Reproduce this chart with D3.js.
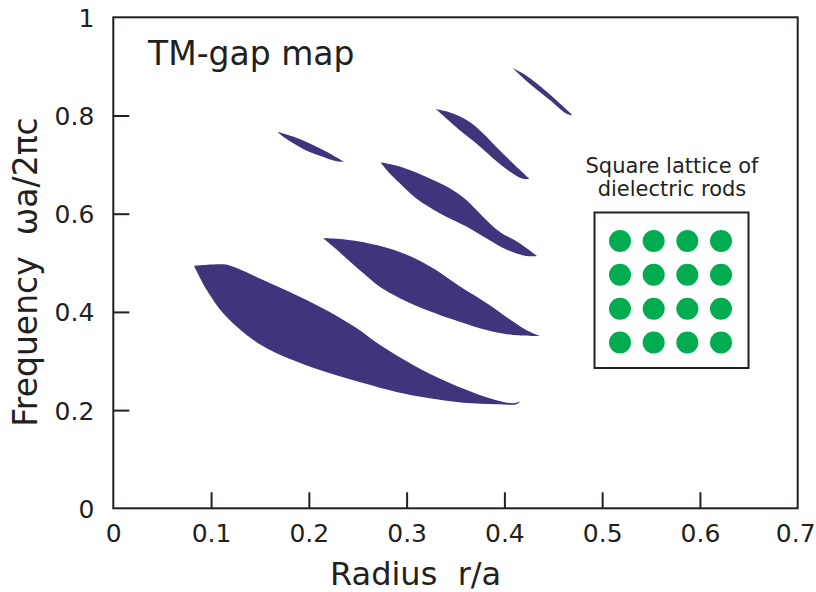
<!DOCTYPE html>
<html>
<head>
<meta charset="utf-8">
<script src="https://cdn.jsdelivr.net/npm/d3@7"></script>
<style>
  html, body { margin: 0; padding: 0; background: #fff; }
  text { font-family: "DejaVu Sans", sans-serif; fill: #231f20; }
</style>
</head>
<body>
<svg id="chart" width="816" height="592"></svg>
<script>
// ---- data ----
const xTicks = [0, 0.1, 0.2, 0.3, 0.4, 0.5, 0.6, 0.7];
const yTicks = [0, 0.2, 0.4, 0.6, 0.8, 1];
const xTickLabels = ["0", "0.1", "0.2", "0.3", "0.4", "0.5", "0.6", "0.7"];
const yTickLabels = ["0", "0.2", "0.4", "0.6", "0.8", "1"];

// gap regions: [r/a, ωa/2πc]; upper and lower edges, each from left tip to right tip
const gap1Upper = [[0.0825,0.494],[0.1124,0.497],[0.1226,0.492],[0.1533,0.465],[0.1874,0.434],[0.2214,0.400],
  [0.2487,0.367],[0.2725,0.333],[0.3066,0.292],[0.3407,0.258],[0.3747,0.231],[0.4087,0.214],[0.4163,0.218]];
const gap1Lower = [[0.0825,0.494],[0.0954,0.445],[0.1124,0.397],[0.1363,0.353],[0.1568,0.326],[0.1874,0.299],
  [0.2214,0.275],[0.2555,0.255],[0.2896,0.237],[0.3236,0.224],[0.3577,0.215],[0.3918,0.212],[0.4122,0.212],[0.4163,0.218]];

const gap2Upper = [[0.2146,0.550],[0.2350,0.548],[0.2692,0.536],[0.3032,0.514],[0.3305,0.485],[0.3543,0.452],
  [0.3816,0.418],[0.4054,0.385],[0.4224,0.363],[0.4360,0.351]];
const gap2Lower = [[0.2146,0.550],[0.2248,0.533],[0.2385,0.509],[0.2555,0.479],[0.2725,0.451],[0.2930,0.428],
  [0.3203,0.404],[0.3543,0.380],[0.3816,0.363],[0.4087,0.353],[0.4360,0.351]];

const gap3Upper = [[0.2732,0.705],[0.2930,0.696],[0.3203,0.675],[0.3441,0.652],[0.3611,0.628],[0.3781,0.594],
  [0.3952,0.563],[0.4156,0.540],[0.4333,0.514]];
const gap3Lower = [[0.2732,0.705],[0.2828,0.682],[0.2930,0.662],[0.3100,0.631],[0.3338,0.601],[0.3611,0.574],
  [0.3849,0.546],[0.4020,0.527],[0.4224,0.514],[0.4333,0.514]];

const gap4Upper = [[0.1676,0.767],[0.1839,0.757],[0.2010,0.743],[0.2181,0.726],[0.2357,0.706]];
const gap4Lower = [[0.1676,0.767],[0.1772,0.752],[0.1942,0.732],[0.2112,0.718],[0.2283,0.707],[0.2357,0.706]];

const gap5Upper = [[0.3298,0.813],[0.3474,0.804],[0.3645,0.787],[0.3781,0.764],[0.3918,0.736],[0.4087,0.703],[0.4258,0.671]];
const gap5Lower = [[0.3298,0.813],[0.3407,0.794],[0.3543,0.770],[0.3713,0.743],[0.3883,0.713],[0.4054,0.686],[0.4190,0.671],[0.4258,0.671]];

const gap6Upper = [[0.4081,0.897],[0.4224,0.881],[0.4394,0.855],[0.4565,0.825],[0.4701,0.800]];
const gap6Lower = [[0.4081,0.897],[0.4156,0.883],[0.4292,0.859],[0.4462,0.832],[0.4633,0.804],[0.4701,0.800]];

const gaps = [
  {upper: gap1Upper, lower: gap1Lower},
  {upper: gap2Upper, lower: gap2Lower},
  {upper: gap3Upper, lower: gap3Lower},
  {upper: gap4Upper, lower: gap4Lower},
  {upper: gap5Upper, lower: gap5Lower},
  {upper: gap6Upper, lower: gap6Lower}
];

const titleText = "TM-gap map";
const xTitle = "Radius\u00a0\u00a0r/a";
const yTitle = "Frequency\u00a0\u00a0\u03c9a/2\u03c0c";
const insetLines = ["Square lattice of", "dielectric rods"];
const latticeRows = [0, 1, 2, 3];
const latticeCols = [0, 1, 2, 3];

// ---- drawing ----
const svg = d3.select("#chart");
const ink = "#231f20";
const x = d3.scaleLinear().domain([0, 0.7]).range([113.3, 797.7]);
const y = d3.scaleLinear().domain([0, 1]).range([508.3, 17.3]);

// gaps: smooth edges, sharp tips
const edge = d3.line().x(d => x(d[0])).y(d => y(d[1])).curve(d3.curveCatmullRom.alpha(0.5));
const gapPath = g => edge(g.upper) + edge(g.lower.slice().reverse()).replace(/^M/, "L") + "Z";
svg.append("g").selectAll("path").data(gaps).join("path")
  .attr("d", gapPath)
  .attr("fill", "#40347c");

// frame
svg.append("rect")
  .attr("x", x(0)).attr("y", y(1))
  .attr("width", x(0.7) - x(0)).attr("height", y(0) - y(1))
  .attr("fill", "none").attr("stroke", ink).attr("stroke-width", 2);

// x axis (inward ticks)
const xAxis = d3.axisBottom(x).tickValues(xTicks).tickSize(0)
  .tickFormat((d, i) => xTickLabels[i]);
const gx = svg.append("g").attr("transform", `translate(0,${y(0)})`).call(xAxis);
gx.select(".domain").remove();
gx.selectAll(".tick text").attr("dy", null).attr("y", 34)
  .attr("x", d => d === 0.7 ? -2.5 : 0)
  .style("font-size", "25px").attr("fill", ink);
gx.selectAll(".tick").filter(d => d > 0 && d < 0.7).append("line")
  .attr("y1", 0).attr("y2", -16).attr("stroke", ink).attr("stroke-width", 2);

// y axis (inward ticks)
const yAxis = d3.axisLeft(y).tickValues(yTicks).tickSize(0)
  .tickFormat((d, i) => yTickLabels[i]);
const gy = svg.append("g").attr("transform", `translate(${x(0)},0)`).call(yAxis);
gy.select(".domain").remove();
gy.selectAll(".tick text").attr("x", -19).attr("dy", "0.36em")
  .style("font-size", "25px").attr("fill", ink);
gy.selectAll(".tick").filter(d => d > 0 && d < 1).append("line")
  .attr("x1", 0).attr("x2", 16).attr("stroke", ink).attr("stroke-width", 2);

// axis titles
svg.append("text").attr("x", 330).attr("y", 585)
  .style("font-size", "32px").text(xTitle);
svg.append("text")
  .attr("transform", "translate(37,272) rotate(-90)")
  .attr("text-anchor", "middle")
  .style("font-size", "33px").text(yTitle);

// chart label
svg.append("text").attr("x", 148).attr("y", 65)
  .style("font-size", "33px").text(titleText);

// inset
svg.append("g").selectAll("text").data(insetLines).join("text")
  .attr("x", 672).attr("y", (d, i) => 173 + i * 22.5)
  .attr("text-anchor", "middle")
  .style("font-size", "21px").text(d => d);

svg.append("rect").attr("x", 594.5).attr("y", 212.5).attr("width", 154).attr("height", 155.5)
  .attr("fill", "none").attr("stroke", ink).attr("stroke-width", 2);

const cx = d3.scaleLinear().domain([0, 3]).range([620, 721]);
const cy = d3.scaleLinear().domain([0, 3]).range([241, 342.5]);
const cells = latticeRows.flatMap(r => latticeCols.map(c => ({r, c})));
svg.append("g").selectAll("circle").data(cells).join("circle")
  .attr("cx", d => cx(d.c)).attr("cy", d => cy(d.r)).attr("r", 11)
  .attr("fill", "#00ac4f");
</script>
</body>
</html>
